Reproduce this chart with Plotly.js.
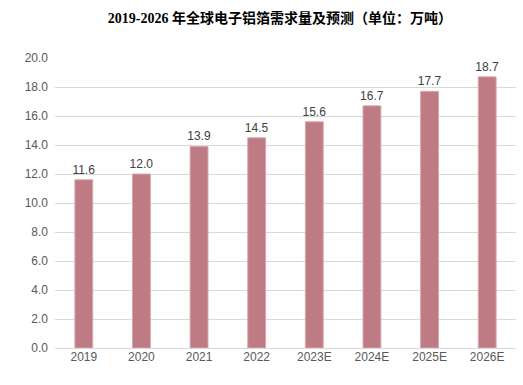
<!DOCTYPE html>
<html><head><meta charset="utf-8">
<script src="https://cdn.plot.ly/plotly-3.0.1.min.js"></script>
<style>body{margin:0;}#chart{width:523px;height:385px;}</style>
</head><body><div id="chart"></div>
<script>
const categories = ["2019","2020","2021","2022","2023E","2024E","2025E","2026E"];
const demand = [11.6,12.0,13.9,14.5,15.6,16.7,17.7,18.7];
const yTicks = [0,2,4,6,8,10,12,14,16,18,20];

const trace = {
  type: 'bar', x: categories, y: demand,
  marker: {color: '#BE7B83', line: {color: '#D8A8AE', width: 1}},
  text: demand.map(v => v.toFixed(1)), textposition: 'outside', constraintext: 'none',
  textfont: {family: 'Liberation Sans, Arial, sans-serif', size: 12, color: '#404040'},
  cliponaxis: false, hoverinfo: 'none'
};
const layout = {
  width: 523, height: 385,
  margin: {l: 55, r: 7, t: 58, b: 37},
  paper_bgcolor: '#ffffff', plot_bgcolor: '#ffffff',
  bargap: 0.69, showlegend: false,
  title: {text: '<b>2019-2026 年全球电子铝箔需求量及预测（单位：万吨）</b>',
    font: {family: '"Liberation Serif", "Times New Roman", "Noto Sans CJK SC", serif', size: 14, color: '#000000'},
    x: 0.535, xanchor: 'center', y: 1 - 18/385, yanchor: 'middle', xref: 'container', yref: 'container'},
  xaxis: {type: 'category', showgrid: false, zeroline: false, showline: false, ticks: '',
    tickfont: {family: 'Liberation Sans, Arial, sans-serif', size: 12, color: '#595959'}},
  yaxis: {range: [0, 20], tickvals: yTicks, ticktext: yTicks.map(v => v.toFixed(1)),
    showgrid: true, gridcolor: '#D9D9D9', gridwidth: 1, zeroline: true, zerolinecolor: '#D9D9D9',
    showline: false, ticks: '', ticklabelstandoff: 6,
    tickfont: {family: 'Liberation Sans, Arial, sans-serif', size: 12, color: '#595959'}}
};
Plotly.newPlot('chart', [trace], layout, {staticPlot: true, displayModeBar: false});
</script></body></html>
